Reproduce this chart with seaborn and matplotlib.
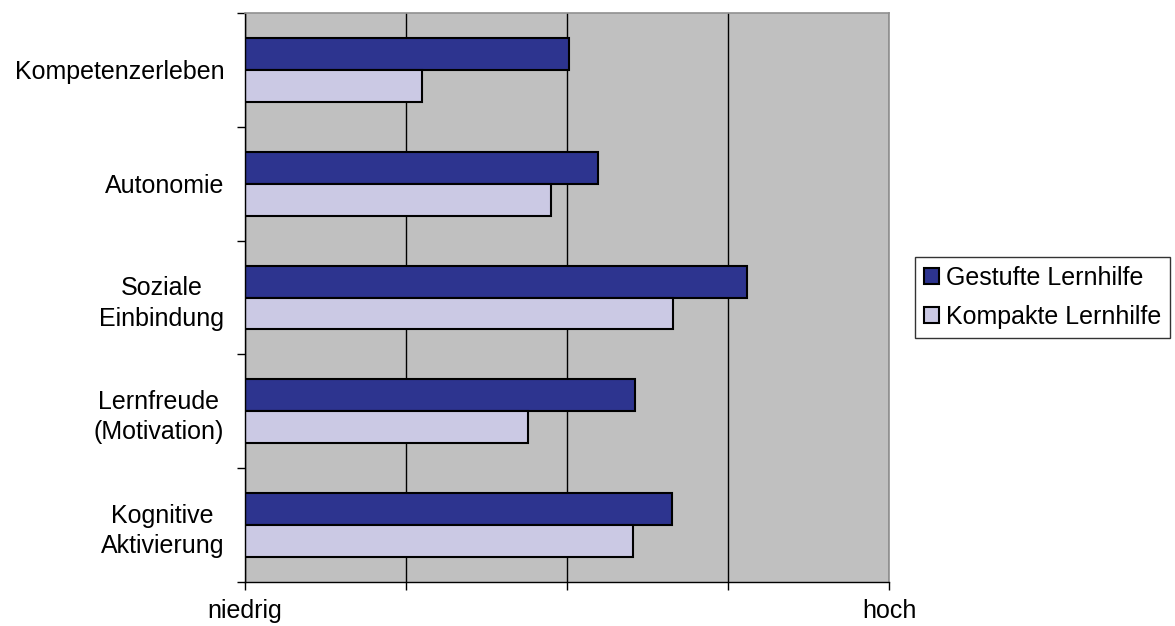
import matplotlib
matplotlib.use("Agg")
import matplotlib.pyplot as plt
import seaborn as sns
import pandas as pd
import numpy as np
from matplotlib.ticker import FixedLocator

categories = ["Kompetenzerleben", "Autonomie", "Soziale\nEinbindung",
              "Lernfreude\n(Motivation)", "Kognitive\nAktivierung"]
series_names = ["Gestufte Lernhilfe", "Kompakte Lernhilfe"]
gestufte = [2.01, 2.19, 3.12, 2.42, 2.65]
kompakte = [1.10, 1.90, 2.66, 1.76, 2.41]
x_tick_labels = ["niedrig", "", "", "", "hoch"]

colors = ["#2d348f", "#cbc9e4"]

df = pd.DataFrame({
    "Kategorie": categories * 2,
    "Wert": gestufte + kompakte,
    "Gruppe": [series_names[0]] * len(categories) + [series_names[1]] * len(categories),
})

sns.set_theme(style="white")
plt.rcParams['font.family'] = ['Liberation Sans', 'DejaVu Sans']
plt.rcParams['text.color'] = 'black'
plt.rcParams['xtick.color'] = 'black'
plt.rcParams['ytick.color'] = 'black'

fig = plt.figure(figsize=(11.75, 6.26), dpi=100)
ax = fig.add_axes([245/1175, 1-582/626, (889-245)/1175, (582-13)/626])
ax.set_facecolor("#c0c0c0")

sns.barplot(data=df, y="Kategorie", x="Wert", hue="Gruppe", order=categories,
            hue_order=series_names, palette=colors, orient="h", width=0.56,
            edgecolor="black", linewidth=1.5, ax=ax, legend=True, saturation=1)

ax.set_xlim(0, 4)
ax.set_ylim(4.5, -0.5)
ax.set_xlabel("")
ax.set_ylabel("")

ax.set_xticks([0, 1, 2, 3, 4])
ax.set_xticklabels(x_tick_labels, fontsize=18, color="black")
ax.xaxis.grid(True, color="black", linewidth=1.0)
ax.set_axisbelow(True)

ax.set_yticks(range(len(categories)))
ax.set_yticklabels(categories, fontsize=18, multialignment="center",
                   linespacing=1.35, color="black")
ax.yaxis.set_minor_locator(FixedLocator(np.arange(-0.5, len(categories), 1.0)))
ax.tick_params(axis="y", which="major", length=0, pad=15)
ax.tick_params(axis="y", which="minor", length=6, width=1, color="black", direction="out", left=True)
ax.tick_params(axis="x", which="major", length=6, width=1, color="black", direction="out", bottom=True, pad=6)

for s in ["left", "bottom"]:
    ax.spines[s].set_color("black")
    ax.spines[s].set_linewidth(1.0)
for s in ["top", "right"]:
    ax.spines[s].set_color("#909090")
    ax.spines[s].set_linewidth(1.2)

handles, labels = ax.get_legend_handles_labels()
if ax.legend_:
    ax.legend_.remove()
leg = fig.legend(handles, labels, loc="center left",
                 bbox_to_anchor=(915/1175, 1-297.5/626), fontsize=18,
                 frameon=True, fancybox=False, edgecolor="black",
                 handlelength=0.6, handleheight=0.6, handletextpad=0.3,
                 borderpad=0.35, labelspacing=0.6, borderaxespad=0)
leg.get_frame().set_linewidth(1.0)
for t in leg.get_texts():
    t.set_color("black")

fig.savefig("out.png", dpi=100, facecolor="white")
